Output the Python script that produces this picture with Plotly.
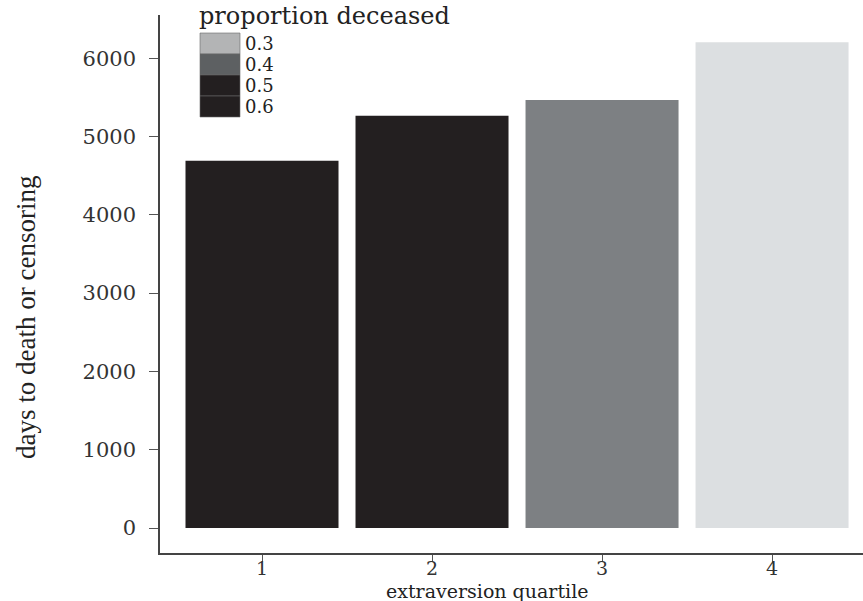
import plotly.graph_objects as go

# Mean days to death or censoring by extraversion quartile
quartiles = [1, 2, 3, 4]
days = [4690, 5265, 5465, 6205]
bar_colors = ["#231f20", "#231f20", "#7d8083", "#dcdfe1"]

# Legend key for proportion deceased
legend_labels = ["0.3", "0.4", "0.5", "0.6"]
legend_colors = ["#b3b4b5", "#5d6062", "#231f20", "#231f20"]

W, H = 863, 601
L, R, T, B = 160, 0, 15, 48
pw, ph = W - L - R, H - T - B

def px(x):
    return (x - L) / pw

def py(y):
    return 1 - (y - T) / ph

serif = "DejaVu Serif"

fig = go.Figure(go.Bar(
    x=quartiles, y=days, width=0.9,
    marker=dict(color=bar_colors, line=dict(width=0)),
    showlegend=False,
))

shapes = []
annotations = []
sw_top, sw_h = 33, 21
for i, (lab, col) in enumerate(zip(legend_labels, legend_colors)):
    y0 = sw_top + i * sw_h
    shapes.append(dict(type="rect", xref="paper", yref="paper",
                       x0=px(200), x1=px(240), y0=py(y0 + sw_h), y1=py(y0),
                       fillcolor=col, line=dict(width=0.6, color="#6a6a6a")))
    annotations.append(dict(xref="paper", yref="paper", x=px(243), y=py(y0 + sw_h / 2),
                            text=lab, showarrow=False, xanchor="left", yanchor="middle",
                            font=dict(family=serif, size=18, color="#222")))
annotations.append(dict(xref="paper", yref="paper", x=px(197), y=py(16),
                        text="proportion deceased", showarrow=False,
                        xanchor="left", yanchor="middle",
                        font=dict(family=serif, size=24, color="#222")))
annotations.append(dict(xref="paper", yref="paper", x=px(487), y=py(591),
                        text="extraversion quartile", showarrow=False,
                        xanchor="center", yanchor="middle",
                        font=dict(family=serif, size=19, color="#222")))
annotations.append(dict(xref="paper", yref="paper", x=px(26), y=py(318),
                        text="days to death or censoring", showarrow=False,
                        textangle=-90, xanchor="center", yanchor="middle",
                        font=dict(family="Liberation Serif", size=27, color="#222")))

fig.update_layout(
    width=W, height=H,
    margin=dict(l=L, r=R, t=T, b=B, pad=0),
    paper_bgcolor="white", plot_bgcolor="white",
    shapes=shapes, annotations=annotations,
    xaxis=dict(range=[0.4, 4.535], tickvals=quartiles, ticktext=[str(q) for q in quartiles],
               showgrid=False, zeroline=False, showline=True, linecolor="#444", linewidth=1.5,
               ticks="outside", ticklen=7, tickcolor="#555", tickwidth=1.2,
               ticklabelstandoff=-10,
               tickfont=dict(family=serif, size=19, color="#333")),
    yaxis=dict(range=[-319, 6552], tickvals=[0, 1000, 2000, 3000, 4000, 5000, 6000],
               showgrid=False, zeroline=False, showline=True, linecolor="#444", linewidth=1.5,
               ticks="outside", ticklen=9, tickcolor="#555", tickwidth=1.2,
               ticklabelstandoff=9,
               tickfont=dict(family=serif, size=21, color="#333")),
)

fig.write_html("out.html")
